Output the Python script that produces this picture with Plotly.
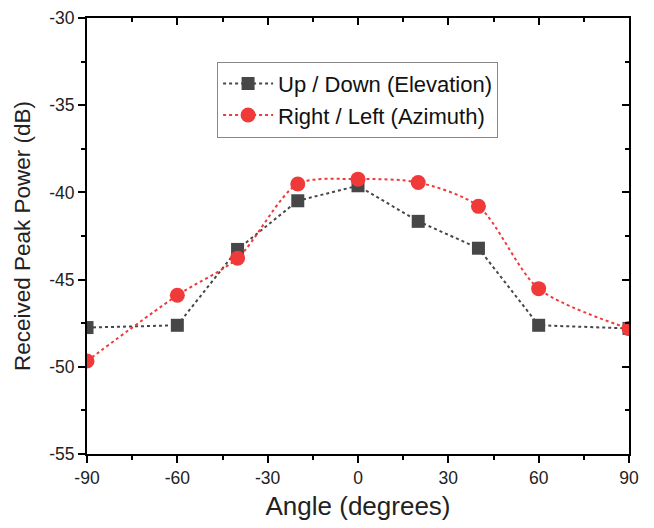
import plotly.graph_objects as go

# data
angle_elev = [-90, -60, -40, -20, 0, 20, 40, 60, 90]
power_elev = [-47.75, -47.62, -43.27, -40.48, -39.62, -41.66, -43.2, -47.62, -47.8]

angle_azim = [-90, -60, -40, -20, 0, 20, 40, 60, 90]
power_azim = [-49.67, -45.9, -43.77, -39.52, -39.24, -39.43, -40.8, -45.52, -47.81]

x_ticks = [-90, -60, -30, 0, 30, 60, 90]
x_labels = ["-90", "-60", "-30", "0", "30", "60", "90"]
y_ticks = [-55, -50, -45, -40, -35, -30]
y_labels = ["-55", "-50", "-45", "-40", "-35", "-30"]

FONT = "Liberation Sans, Arial, sans-serif"
grey = "#474747"
red = "#f03a3a"

fig = go.Figure()
fig.add_trace(
    go.Scatter(
        x=angle_elev,
        y=power_elev,
        mode="lines+markers",
        name="Up / Down (Elevation)",
        line=dict(color=grey, dash="dot", width=2),
        marker=dict(symbol="square", size=13, color=grey),
    )
)
fig.add_trace(
    go.Scatter(
        x=angle_azim,
        y=power_azim,
        mode="lines+markers",
        name="Right / Left (Azimuth)",
        line=dict(color=red, dash="dot", width=2, shape="spline", smoothing=0.8),
        marker=dict(symbol="circle", size=15, color=red),
    )
)
# empty trace so the mirrored (inward tick) axes get drawn
fig.add_trace(
    go.Scatter(x=[], y=[], xaxis="x2", yaxis="y2", showlegend=False, hoverinfo="skip")
)

axis_common = dict(
    showgrid=False,
    zeroline=False,
    showline=True,
    linecolor="black",
    linewidth=2,
    ticklen=7,
    tickwidth=1.5,
    tickcolor="black",
    automargin=False,
)

# page body has an 8px default margin, so the figure is 8px smaller than the window
fig.update_layout(
    width=646,
    height=520,
    margin=dict(l=79, r=25, t=10, b=74),
    plot_bgcolor="white",
    paper_bgcolor="white",
    font=dict(family=FONT, color="#222"),
    xaxis=dict(
        range=[-90, 90],
        tickvals=x_ticks,
        ticktext=x_labels,
        ticks="outside",
        tickfont=dict(size=17.5),
        ticklabeloverflow="allow",
        title=dict(text="Angle (degrees)", font=dict(size=26), standoff=10),
        minor=dict(dtick=15, ticks="outside", ticklen=4, tickcolor="black"),
        **axis_common,
    ),
    yaxis=dict(
        range=[-55, -30],
        tickvals=y_ticks,
        ticktext=y_labels,
        ticks="outside",
        tickfont=dict(size=17.5),
        ticklabeloverflow="allow",
        title=dict(text="Received Peak Power (dB)", font=dict(size=22.5), standoff=12),
        minor=dict(dtick=2.5, ticks="outside", ticklen=4, tickcolor="black"),
        **axis_common,
    ),
    xaxis2=dict(
        overlaying="x",
        side="top",
        anchor="y2",
        range=[-90, 90],
        tickvals=x_ticks,
        ticks="inside",
        showticklabels=False,
        minor=dict(dtick=15, ticks="inside", ticklen=4, tickcolor="black"),
        **axis_common,
    ),
    yaxis2=dict(
        overlaying="y",
        side="right",
        anchor="x2",
        range=[-55, -30],
        tickvals=y_ticks,
        ticks="inside",
        showticklabels=False,
        minor=dict(dtick=2.5, ticks="inside", ticklen=4, tickcolor="black"),
        **axis_common,
    ),
    legend=dict(
        x=0.24,
        y=0.9,
        xanchor="left",
        yanchor="top",
        bordercolor="#888",
        borderwidth=1,
        bgcolor="white",
        font=dict(size=22, family=FONT, color="#111"),
        itemwidth=50,
        tracegroupgap=0,
    ),
)

fig.write_html("out.html")
